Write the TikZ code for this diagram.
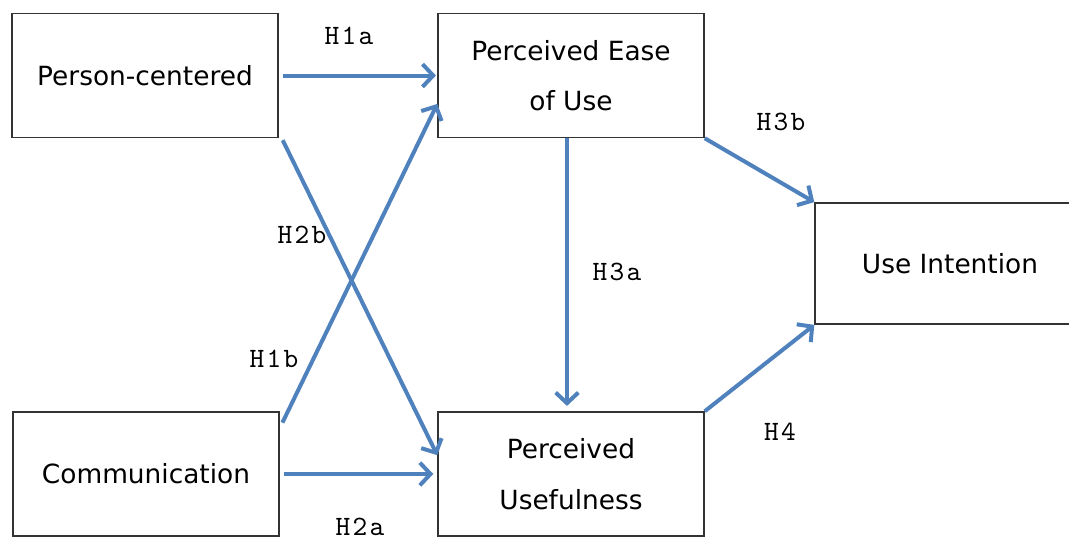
\documentclass[tikz,border=0pt]{standalone}
\usepackage{fontspec}
\setmainfont{DejaVu Sans}
\newfontfamily\hypfont{lmmono10-regular.otf}[LetterSpace=8]
\usepackage{xcolor}
\usetikzlibrary{arrows.meta}
\definecolor{hypblue}{RGB}{79,129,189}

\begin{document}
\begin{tikzpicture}[x=0.75pt, y=-0.75pt,
construct/.style={draw=black!80, line width=1.1pt, fill=white, minimum width=199.5pt, minimum height=93pt, align=center, font=\fontsize{19.8}{38}\selectfont},
hyp/.style={hypblue, line width=3pt, -{Straight Barb[length=8pt, width=17pt]}},
hyplabel/.style={font=\hypfont\fontsize{21}{21}\selectfont}
]

\useasboundingbox (0,0) rectangle (1069,540);

% constructs
\node[construct] (pc) at (145,75.5) {Person-centered};
\node[construct] (peou) at (571,75.5) {Perceived Ease\\of Use};
\node[construct, minimum width=202.5pt, minimum height=91pt] (ui) at (950,263.5) {Use Intention};
\node[construct] (comm) at (146,474) {Communication};
\node[construct] (pu) at (571,474) {Perceived\\Usefulness};


% hypotheses
\draw[hyp] ([xshift=3pt]pc.east) -- ([xshift=-1pt]peou.west);
\draw[hyp] ([xshift=3pt,yshift=-1.5pt]pc.south east) -- (pu.172);
\draw[hyp] ([xshift=2pt]comm.21) -- (peou.192);
\draw[hyp] ([xshift=3pt]comm.east) -- ([xshift=-3pt]pu.west);
\draw[hyp] ([xshift=-3pt]peou.south) -- ([xshift=-3pt,yshift=4pt]pu.north);
\draw[hyp] (peou.south east) -- (ui.north west);
\draw[hyp] (pu.north east) -- (ui.south west);


% labellings
\node[hyplabel] (h1a) at (349,36) {H1a};
\node[hyplabel] (h2b) at (302,235) {H2b};
\node[hyplabel] (h1b) at (274,359) {H1b};
\node[hyplabel] (h2a) at (360,527) {H2a};
\node[hyplabel] (h3a) at (617,272) {H3a};
\node[hyplabel] (h3b) at (781,122) {H3b};
\node[hyplabel] (h4) at (780,432) {H4};

\end{tikzpicture}
\end{document}
